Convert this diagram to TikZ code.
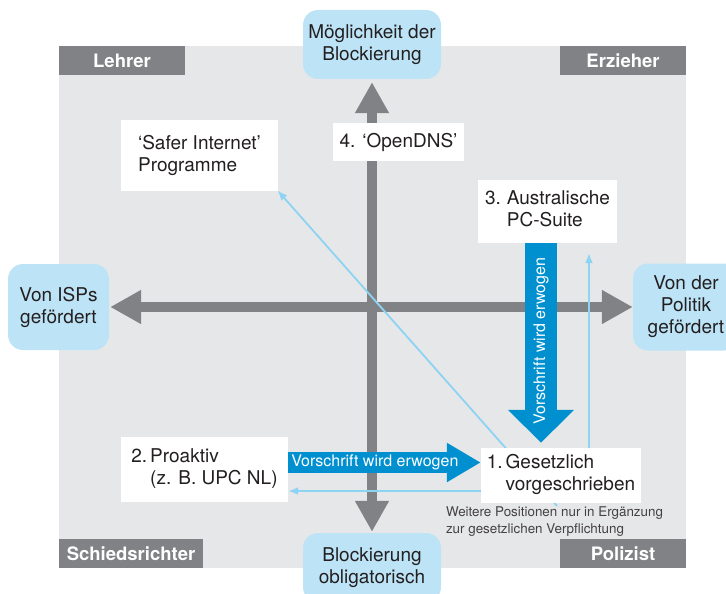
\documentclass[tikz,border=0pt]{standalone}
\usepackage{fontspec}
\setmainfont{TeX Gyre Heros}
\usepackage{tikz}
\usetikzlibrary{arrows.meta,calc,positioning}
\definecolor{feldgrau}{HTML}{E6E7E8}
\definecolor{dunkelgrau}{HTML}{808285}
\definecolor{hellblau}{HTML}{BDE3F6}
\definecolor{linienblau}{HTML}{8DD3F3}
\definecolor{pfeilblau}{HTML}{0090D0}
\definecolor{schrift}{HTML}{231F20}
\pgfdeclarelayer{back}
\pgfdeclarelayer{axes}
\pgfdeclarelayer{links}
\pgfsetlayers{back,axes,links,main}
\tikzset{
    pol/.style={
           rectangle,
           rounded corners=15pt,
           fill=hellblau,
           text=schrift,
           inner sep=0pt,
           align=center,
           font=\fontsize{19}{22}\selectfont},
    kasten/.style={
           rectangle,
           fill=white,
           text=schrift,
           inner sep=0pt,
           align=left,
           font=\fontsize{19}{22}\selectfont},
    ecke/.style={
           rectangle,
           fill=dunkelgrau,
           text=white,
           inner sep=0pt,
           minimum width=126pt,
           minimum height=29pt,
           font=\fontsize{18.5}{22}\selectfont\bfseries},
    achse/.style={
           draw=dunkelgrau,
           line width=10.5pt,
           {Triangle[length=31pt,width=32pt]}-{Triangle[length=31pt,width=32pt]}},
    pil/.style={
           draw=linienblau,
           line width=1.8pt,
           -{Latex[length=10pt,width=8pt]}},
    vorschrift/.style={
           draw=pfeilblau,
           text=white,
           font=\fontsize{16}{19}\selectfont}
}

\begin{document}
\begin{tikzpicture}[x=1pt,y=-1pt]
          \clip (0,0) rectangle (726,594);
          \node[pol, minimum width=138pt, minimum height=69pt] (block) at (372,44.5) {Möglichkeit der\\Blockierung};
          \node[pol, minimum width=138pt, minimum height=69pt] (pflicht) at (372,567.5) {Blockierung\\obligatorisch};
          \node[pol, minimum width=101pt, minimum height=86pt] (isp) at (58.5,307) {Von ISPs\\gefördert};
          \node[pol, minimum width=106pt, minimum height=87pt] (politik) at (686,307) {Von der\\Politik\\gefördert};
          \node[kasten, minimum width=157pt, minimum height=71pt] (safer) at (199.5,155.5) {‘Safer Internet’\\Programme};
          \node[kasten, minimum width=131pt, minimum height=38pt] (dns) at (398.5,142) {4. ‘OpenDNS’};
          \node[kasten, minimum width=139pt, minimum height=63pt] (austr) at (547.5,211.5)
               {\begin{tabular}{@{}l@{\hskip 6pt}l@{}}3. & Australische\\ & PC-Suite\end{tabular}};
          \node[kasten, minimum width=167pt, minimum height=65pt] (proaktiv) at (204.5,469.5)
               {\begin{tabular}{@{}l@{\hskip 3pt}l@{}}2. & Proaktiv\\ & (z. B. UPC NL)\end{tabular}};
          \node[kasten, minimum width=160pt, minimum height=55pt] (gesetz) at (561,475.5)
               {\begin{tabular}{@{}l@{\hskip 3pt}l@{}}1. & Gesetzlich\\ & vorgeschrieben\end{tabular}};
          \node[align=left, inner sep=0pt, text=schrift!85, font=\fontsize{13.4}{17}\selectfont, anchor=north west] (hinweis)
               at ([xshift=-35pt,yshift=-3pt]gesetz.south west) {Weitere Positionen nur in Ergänzung\\zur gesetzlichen Verpflichtung};
          \coordinate (dfuss) at (557,506);
          \begin{pgfonlayer}{back}
          \node[fill=feldgrau, inner sep=0pt, minimum width=627pt, minimum height=522pt] (feld) at (372.5,307) {};
          \node[ecke, anchor=north west] (lehrer) at (feld.north west) {Lehrer};
          \node[ecke, anchor=north east] (erzieher) at (feld.north east) {Erzieher};
          \node[ecke, minimum width=144pt, anchor=south west] (schieds) at (feld.south west) {Schiedsrichter};
          \node[ecke, anchor=south east] (polizist) at (feld.south east) {Polizist};
          \end{pgfonlayer}
          \begin{pgfonlayer}{axes}
          \draw[achse] ([yshift=-3pt]block.south) -- ([yshift=1pt]pflicht.north);
          \draw[achse] ([xshift=1pt]isp.east) -- (politik.west);
          \end{pgfonlayer}
          \begin{pgfonlayer}{links}
          \draw[pil, shorten >=-1pt] (dfuss) -- (safer.south east);
          \draw[pil, shorten >=10pt] ([xshift=28pt]gesetz.north) -- ([xshift=28pt]gesetz.north |- austr.south);
          \draw[pil] ([yshift=-15.5pt]gesetz.west) -- ([yshift=-15.5pt]gesetz.west -| proaktiv.east);
          \draw[vorschrift, line width=21pt, -{Triangle[length=34pt,width=37pt]}]
               ([yshift=7pt]proaktiv.east) -- ([yshift=7pt]proaktiv.east -| gesetz.west)
               node[pos=0.45] {Vorschrift wird erwogen};
          \draw[vorschrift, line width=32pt, -{Triangle[length=33pt,width=64pt]}]
               ([xshift=-6.5pt]austr.south) -- ([xshift=-6.5pt,yshift=5pt]austr.south |- gesetz.north)
               node[pos=0.49, rotate=90] {Vorschrift wird erwogen};
          \end{pgfonlayer}
         \end{tikzpicture}
\end{document}
